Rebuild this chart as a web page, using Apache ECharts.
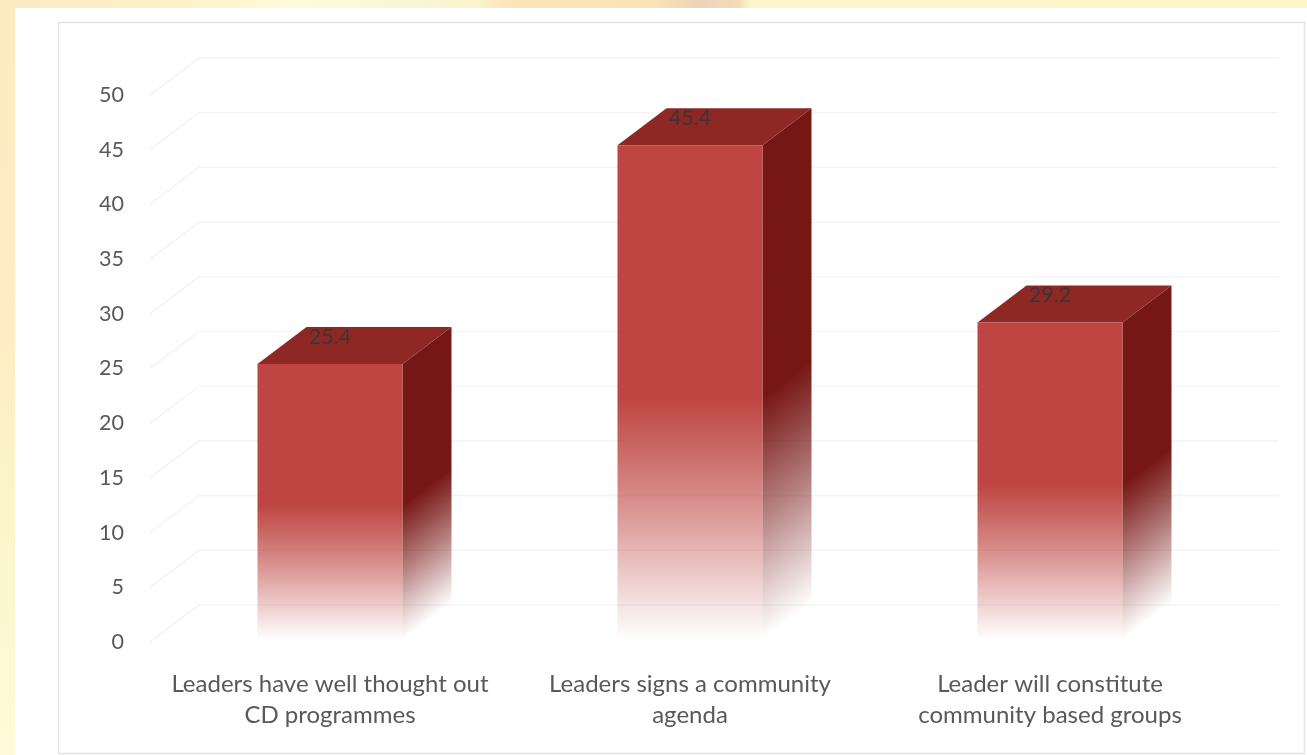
<!DOCTYPE html>
<html>
<head>
<meta charset="utf-8">
<style>html,body{margin:0;padding:0;background:#fff}#c{width:1307px;height:755px}</style>
<script src="https://cdn.jsdelivr.net/npm/echarts@6/dist/echarts.min.js"></script>
</head>
<body>
<div id="c"></div>
<script>
var categories = ['Leaders have well thought out\nCD programmes', 'Leaders signs a community\nagenda', 'Leader will constitute\ncommunity based groups'];
var values = [25.4, 45.4, 29.2];
var valueTicks = [0, 5, 10, 15, 20, 25, 30, 35, 40, 45, 50];

var DX = 49, DY = -37, BAR = 145;
var SIDE = '119,23,21', FRONT = '190,69,65', TOP = '#8E2825';
var chart = echarts.init(document.getElementById('c'));

function grad(x, y, x2, y2, rgb, stops) {
  return new echarts.graphic.LinearGradient(x, y, x2, y2, stops.map(function (s) {
    return { offset: s[0], color: 'rgba(' + rgb + ',' + s[1] + ')' };
  }), true);
}
var fade = [[0, 1], [0.51, 1], [0.62, 0.8], [0.75, 0.54], [0.88, 0.26], [1, 0]];

function renderGrid(params, api) {
  var v = api.value(0);
  var cs = params.coordSys;
  var y = api.coord([0, v])[1];
  var xl = cs.x, xr = cs.x + cs.width;
  return {
    type: 'polyline', silent: true,
    shape: { points: [[xl, y], [xl + DX, y + DY], [xr + DX, y + DY]] },
    style: { stroke: '#F3F5F4', lineWidth: 1.6, fill: null }
  };
}

function renderBar(params, api) {
  var cat = api.value(0), val = api.value(1);
  var top = api.coord([cat, val]), base = api.coord([cat, 0]);
  var xl = top[0] - BAR / 2, xr = top[0] + BAR / 2, yt = top[1], yb = base[1] - 2;
  var h = yb - yt;
  var n = Math.sqrt(DX * DX + DY * DY), ux = -DY / n, uy = DX / n, ext = h * uy;
  return {
    type: 'group',
    children: [
      { type: 'polygon', silent: true,
        shape: { points: [[xr, yt], [xr + DX, yt + DY], [xr + DX, yb + DY], [xr, yb]] },
        style: { fill: grad(xr, yt, xr + ux * ext, yt + uy * ext, SIDE, fade) } },
      { type: 'polygon', silent: true,
        shape: { points: [[xl, yt], [xl + DX, yt + DY], [xr + DX, yt + DY], [xr, yt]] },
        style: { fill: TOP } },
      { type: 'rect', silent: true,
        shape: { x: xl, y: yt, width: BAR, height: h },
        style: { fill: grad(xl, yt, xl, yb, FRONT, fade) } },
      { type: 'text', silent: true,
        x: top[0], y: yt - 27,
        style: { text: String(val), fill: '#3D3535', font: '21.5px Lato, "Open Sans", sans-serif', align: 'center', verticalAlign: 'middle' } }
    ]
  };
}

chart.setOption({
  animation: false,
  backgroundColor: '#FFFFFF',
  graphic: { elements: [
    { type: 'rect', z: -10, shape: { x: 0, y: 0, width: 1307, height: 8 },
      style: { fill: new echarts.graphic.LinearGradient(0, 0, 1, 0, [
        { offset: 0, color: '#FDEBC2' }, { offset: 0.12, color: '#FDF0C8' }, { offset: 0.23, color: '#FFFBDA' },
        { offset: 0.3, color: '#F8F7D6' }, { offset: 0.365, color: '#FBF3CE' }, { offset: 0.385, color: '#FDE5BC' },
        { offset: 0.5, color: '#FBE2B6' }, { offset: 0.535, color: '#EDD3B8' }, { offset: 0.565, color: '#F2DCB8' },
        { offset: 0.575, color: '#FFF7CC' }, { offset: 1, color: '#FEF5C8' }]) } },
    { type: 'rect', z: -10, shape: { x: 0, y: 0, width: 15, height: 755 },
      style: { fill: new echarts.graphic.LinearGradient(0, 0, 0, 1, [
        { offset: 0, color: '#FDEBC2' }, { offset: 0.45, color: '#FEEDC4' }, { offset: 0.6, color: '#FBF3C8' },
        { offset: 1, color: '#FFFBD8' }]) } },
    { type: 'rect', z: -9, shape: { x: 58.5, y: 22.5, width: 1246, height: 731 },
      style: { fill: '#FFFFFF', stroke: '#E2E2E2', lineWidth: 1.4 } }
  ] },
  grid: { left: 150, right: 77, top: 95, bottom: 113, containLabel: false },
  xAxis: {
    type: 'category', data: categories,
    axisLine: { show: false }, axisTick: { show: false }, splitLine: { show: false },
    axisLabel: { color: '#595959', fontFamily: 'Lato, "Open Sans", sans-serif', fontSize: 24, lineHeight: 31, margin: 27, interval: 0 }
  },
  yAxis: {
    type: 'value', min: 0, max: 50, interval: 5,
    axisLine: { show: false }, axisTick: { show: false }, splitLine: { show: false },
    axisLabel: { color: '#595959', fontFamily: 'Lato, "Open Sans", sans-serif', fontSize: 21.5, margin: 26, padding: [8, 0, 0, 0] }
  },
  series: [
    { type: 'custom', name: 'grid', renderItem: renderGrid, silent: true, z: 1,
      encode: { y: 0 }, data: valueTicks.map(function (t) { return [t]; }) },
    { type: 'custom', name: 'Leaders', renderItem: renderBar, silent: true, z: 2,
      encode: { x: 0, y: 1 }, data: values.map(function (v, i) { return [i, v]; }) }
  ]
});
</script>
</body>
</html>
